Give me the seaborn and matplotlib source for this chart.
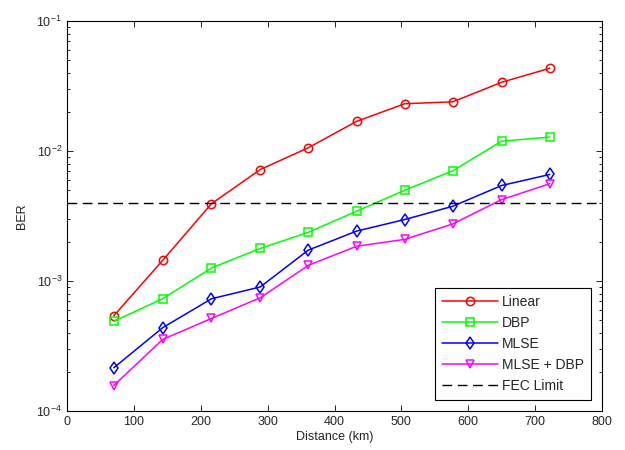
import numpy as np
import pandas as pd
import matplotlib
matplotlib.use("Agg")
import matplotlib.pyplot as plt
import seaborn as sns

distance = [70, 143, 216, 289, 361, 433, 505, 577, 650, 722]
ber_linear = [5.4e-4, 1.44e-3, 3.93e-3, 7.2e-3, 1.06e-2, 1.69e-2, 2.31e-2, 2.39e-2, 3.38e-2, 4.33e-2]
ber_dbp = [4.9e-4, 7.3e-4, 1.26e-3, 1.78e-3, 2.37e-3, 3.44e-3, 4.99e-3, 7.05e-3, 1.19e-2, 1.28e-2]
ber_mlse = [2.15e-4, 4.37e-4, 7.3e-4, 9.0e-4, 1.73e-3, 2.42e-3, 2.97e-3, 3.76e-3, 5.43e-3, 6.6e-3]
ber_mlse_dbp = [1.57e-4, 3.55e-4, 5.15e-4, 7.43e-4, 1.32e-3, 1.85e-3, 2.09e-3, 2.75e-3, 4.23e-3, 5.6e-3]
fec_limit = 4.0e-3

series_names = ["Linear", "DBP", "MLSE", "MLSE + DBP"]
series_values = [ber_linear, ber_dbp, ber_mlse, ber_mlse_dbp]
colors = ["#ff0000", "#00ff00", "#0000ff", "#ff00ff"]
markers = ["o", "s", "d", "v"]

x_ticks = [0, 100, 200, 300, 400, 500, 600, 700, 800]

sns.set_style("ticks")
plt.rcParams["font.family"] = ["Liberation Sans", "DejaVu Sans"]
plt.rcParams["mathtext.default"] = "regular"

fig = plt.figure(figsize=(6.25, 4.5), dpi=100)
ax = fig.add_axes([67 / 625, 1 - 411 / 450, (602 - 67) / 625, (411 - 21) / 450])

for name, vals, c, m in zip(series_names, series_values, colors, markers):
    df = pd.DataFrame({"Distance": distance, "BER": vals})
    sns.lineplot(data=df, x="Distance", y="BER", ax=ax, color=c, linewidth=1.1,
                 marker=m, markersize=6 if m != "d" else 6.5, markerfacecolor="none",
                 markeredgecolor=c, markeredgewidth=1.1, label=name)

ax.axhline(fec_limit, color="black", linestyle=(0, (7, 4)), linewidth=1.0, label="FEC Limit")

ax.set_yscale("log")
ax.set_ylim(1e-4, 1e-1)
ax.set_xlim(0, 800)
ax.set_xticks(x_ticks)
ax.set_xlabel("Distance (km)", fontsize=9, labelpad=2)
ax.set_ylabel("BER", fontsize=9, labelpad=6)

ax.tick_params(axis="both", which="both", direction="in", top=True, right=True,
               labelsize=9, width=0.6, color="black")
ax.tick_params(axis="both", which="major", length=4)
ax.tick_params(axis="y", which="minor", length=2.5)
ax.tick_params(axis="x", which="minor", bottom=False, top=False)
for s in ax.spines.values():
    s.set_linewidth(0.8)
    s.set_color("black")

leg = ax.legend(loc="lower right", fontsize=10, frameon=True, fancybox=False,
                edgecolor="black", framealpha=1, handlelength=4.0,
                labelspacing=0.5, borderaxespad=0.8, handletextpad=0.3,
                borderpad=0.5)
leg.get_frame().set_linewidth(0.8)

fig.savefig("out.png", dpi=100)
